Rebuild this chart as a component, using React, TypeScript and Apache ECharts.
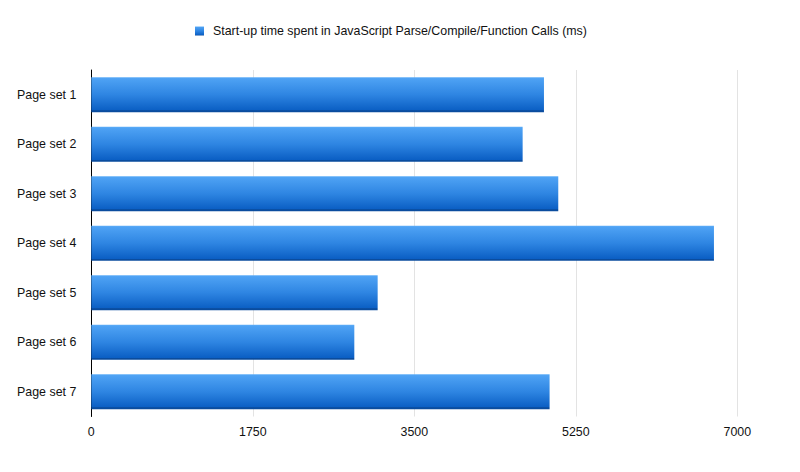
import React, { useEffect, useRef } from "react";
import * as echarts from "echarts";

const categories = ["Page set 1", "Page set 2", "Page set 3", "Page set 4", "Page set 5", "Page set 6", "Page set 7"];
const values = [4905, 4674, 5060, 6747, 3103, 2850, 4966];
const seriesName = "Start-up time spent in JavaScript Parse/Compile/Function Calls (ms)";
const xTicks = [0, 1750, 3500, 5250, 7000];

const FONT = "'Liberation Sans', Arial, Helvetica, sans-serif";
const FS = 12.4;
const TXT = "#111";

export default function App() {
  const ref = useRef<HTMLDivElement>(null);
  useEffect(() => {
    if (!ref.current) return;
    const chart = echarts.init(ref.current, null, { renderer: "svg" });
    const grad = new echarts.graphic.LinearGradient(0, 0, 0, 1, [
      { offset: 0, color: "#62b0f8" },
      { offset: 0.04, color: "#4ea2f4" },
      { offset: 0.5, color: "#2e85e2" },
      { offset: 0.94, color: "#0b5fc4" },
      { offset: 0.95, color: "#0a4c9e" },
      { offset: 1, color: "#0a4c9e" },
    ]);
    chart.setOption({
      animation: false,
      backgroundColor: "#ffffff",
      textStyle: { fontFamily: FONT },
      legend: {
        left: 195,
        top: 25,
        padding: 0,
        icon: "rect",
        itemWidth: 9,
        itemHeight: 9,
        itemGap: 5,
        textStyle: { fontSize: FS, color: TXT, fontFamily: FONT, padding: [0, 0, 0, 4] },
        data: [seriesName],
      },
      grid: { left: 91.3, right: 62.7, top: 70, bottom: 55.5, containLabel: false },
      xAxis: {
        type: "value",
        min: xTicks[0],
        max: xTicks[xTicks.length - 1],
        interval: xTicks[1] - xTicks[0],
        axisLine: { show: false },
        axisTick: { show: false },
        splitLine: { show: true, lineStyle: { color: "#e3e3e3", width: 1 } },
        axisLabel: {
          fontSize: FS,
          color: TXT,
          margin: 9,
          fontFamily: FONT,
          formatter: (v: number) => String(v),
        },
      },
      yAxis: {
        type: "category",
        inverse: true,
        data: categories,
        axisLine: { show: true, lineStyle: { color: "#000", width: 1 } },
        axisTick: { show: false },
        axisLabel: { fontSize: FS, color: TXT, margin: 15, fontFamily: FONT },
      },
      series: [
        {
          name: seriesName,
          type: "bar",
          data: values,
          barCategoryGap: "29%",
          itemStyle: { color: grad },
          z: 1,
        },
      ],
    });
    return () => chart.dispose();
  }, []);
  return (
    <div
      ref={ref}
      style={{ position: "fixed", left: 0, top: 0, width: 800, height: 472 }}
    />
  );
}
